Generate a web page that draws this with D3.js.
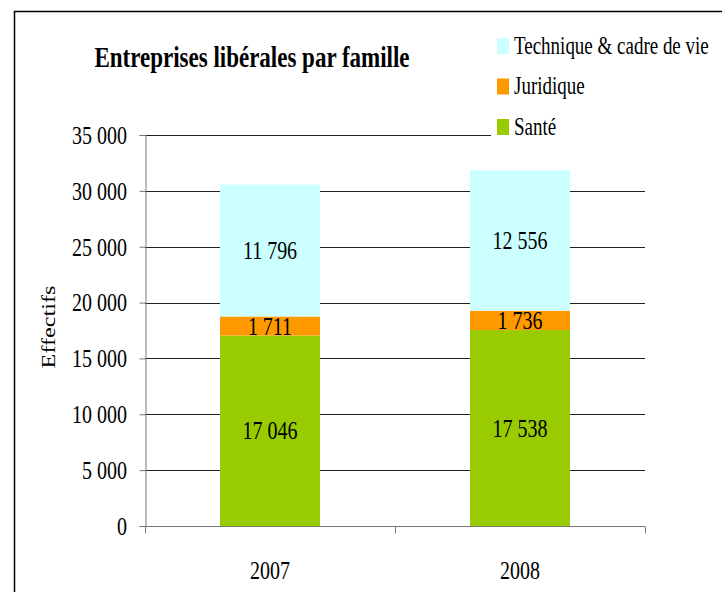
<!DOCTYPE html>
<html>
<head>
<meta charset="utf-8">
<script src="https://cdn.jsdelivr.net/npm/d3@7"></script>
<style>
  body { margin: 0; background: #fff; }
  svg { display: block; }
  text { font-family: 'Liberation Serif', 'Times New Roman', serif; fill: #000; }
</style>
</head>
<body>
<div class="Canvas"></div>
<script>
const years = ['2007', '2008'];
const seriesNames = ['Santé', 'Juridique', 'Technique & cadre de vie'];
const sante = [17046, 17538];
const juridique = [1711, 1736];
const technique = [11796, 12556];
const yTicks = [0, 5000, 10000, 15000, 20000, 25000, 30000, 35000];
const colors = ['#99cc00', '#ff9900', '#ccffff'];

const width = 722;
const height = 592;
const stretch = 1.3;
const plot = { left: 145, right: 645, top: 135, bottom: 526 };

const fr = d3.formatLocale({ decimal: ',', thousands: ' ', grouping: [3], currency: ['', ' €'] });
const fmt = fr.format(',');

const rows = years.map((y, i) => ({ year: y, 'Santé': sante[i], 'Juridique': juridique[i], 'Technique & cadre de vie': technique[i] }));
const stacked = d3.stack().keys(seriesNames)(rows);

const svg = d3.select('.Canvas').append('svg').attr('width', width).attr('height', height);

// outer frame
svg.append('rect')
  .attr('x', 14.5).attr('y', 11.5)
  .attr('width', 800).attr('height', 700)
  .attr('fill', 'none').attr('stroke', '#000').attr('stroke-width', 1.5);

const x = d3.scaleBand().domain(years).range([plot.left, plot.right]).paddingInner(0.6).paddingOuter(0.3);
const y = d3.scaleLinear().domain([0, 35000]).range([plot.bottom, plot.top]);

// text drawn with a vertical stretch like the source image
const label = (px, py, str, size, anchor, extra) => {
  return svg.append('text')
    .attr('transform', `translate(${px},${py}) scale(1,${stretch})${extra || ''}`)
    .attr('text-anchor', anchor)
    .attr('font-size', size + 'px')
    .text(str);
};

// gridlines
svg.append('g')
  .selectAll('line')
  .data(yTicks.filter((d) => d > 0))
  .enter()
  .append('line')
  .attr('x1', plot.left).attr('x2', plot.right)
  .attr('y1', (d) => Math.round(y(d)) + 0.5).attr('y2', (d) => Math.round(y(d)) + 0.5)
  .attr('stroke', '#222').attr('stroke-width', 1);

// bars
svg.append('g')
  .selectAll('g')
  .data(stacked)
  .enter()
  .append('g')
  .attr('fill', (d, i) => colors[i])
  .selectAll('rect')
  .data((d) => d)
  .enter()
  .append('rect')
  .attr('x', (d) => x(d.data.year))
  .attr('width', x.bandwidth())
  .attr('y', (d) => y(d[1]))
  .attr('height', (d) => y(d[0]) - y(d[1]));

// value labels
stacked.forEach((s) => {
  s.forEach((d) => {
    const cy = y((d[0] + d[1]) / 2);
    label(x(d.data.year) + x.bandwidth() / 2, cy + 8.5, fmt(d[1] - d[0]), 20, 'middle');
  });
});

// y axis
const yAxis = svg.append('g').attr('transform', `translate(${plot.left + 0.5},0)`)
  .call(d3.axisLeft(y).tickValues(yTicks).tickSize(6).tickFormat(''));
yAxis.selectAll('path, line').attr('stroke', '#777');
yTicks.forEach((t) => label(127, y(t) + 8.8, fmt(t), 20, 'end'));

// x axis
const xAxis = svg.append('g').attr('transform', `translate(0,${plot.bottom + 0.5})`);
xAxis.append('line').attr('x1', plot.left).attr('x2', plot.right).attr('stroke', '#777');
xAxis.selectAll('line.tick')
  .data([plot.left, (plot.left + plot.right) / 2, plot.right])
  .enter()
  .append('line')
  .attr('class', 'tick')
  .attr('x1', (d) => d + 0.5).attr('x2', (d) => d + 0.5)
  .attr('y1', 0).attr('y2', 7)
  .attr('stroke', '#777');
years.forEach((yr) => label(x(yr) + x.bandwidth() / 2, 579, yr, 20, 'middle'));

// axis title
label(55, 327, 'Effectifs', 18.6, 'middle', ' rotate(-90)');

// chart title
label(252, 67, 'Entreprises libérales par famille', 23, 'middle').attr('font-weight', 'bold');

// legend
const legend = svg.append('g');
legend.append('rect').attr('x', 491).attr('y', 24).attr('width', 240).attr('height', 117).attr('fill', '#fff');
const legendOrder = [2, 1, 0];
legendOrder.forEach((k, i) => {
  const top = 38 + i * 40.5;
  legend.append('rect')
    .attr('x', 497).attr('y', top)
    .attr('width', 12).attr('height', 16)
    .attr('fill', colors[k]);
  label(514, top + 15.5, seriesNames[k], 19, 'start');
});
</script>
</body>
</html>
